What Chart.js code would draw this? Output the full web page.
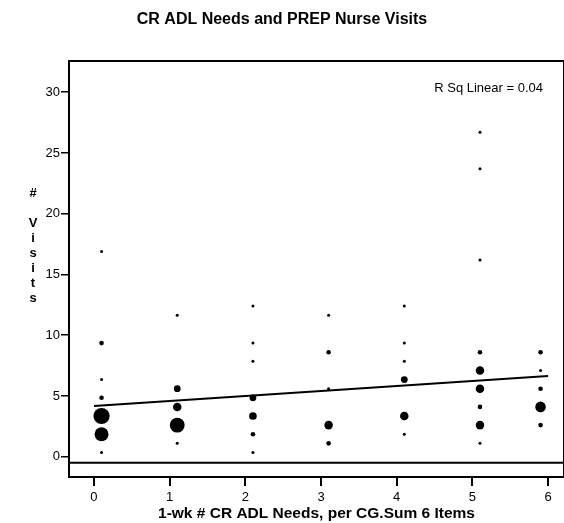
<!DOCTYPE html>
<html>
<head>
<meta charset="utf-8">
<script src="https://cdn.jsdelivr.net/npm/chart.js@4.4.0/dist/chart.umd.min.js"></script>
<style>
  html, body { margin: 0; padding: 0; background: #fff; }
  #wrap { width: 564px; height: 523px; position: relative; }
</style>
</head>
<body>
<div id="wrap"><canvas id="visitChart"></canvas></div>
<script>
// ADL needs (slightly offset so stacked columns don't sit on the ticks)
const adlNeeds = [
  0.1, 0.1, 0.1, 0.1, 0.1, 0.1, 0.1,
  1.1, 1.1, 1.1, 1.1, 1.1,
  2.1, 2.1, 2.1, 2.1, 2.1, 2.1, 2.1,
  3.1, 3.1, 3.1, 3.1, 3.1,
  4.1, 4.1, 4.1, 4.1, 4.1, 4.1,
  5.1, 5.1, 5.1, 5.1, 5.1, 5.1, 5.1, 5.1, 5.1,
  5.9, 5.9, 5.9, 5.9, 5.9
];
const nurseVisits = [
  16.9, 9.35, 6.35, 4.85, 3.35, 1.85, 0.35,
  11.65, 5.6, 4.1, 2.6, 1.1,
  12.4, 9.35, 7.85, 4.85, 3.35, 1.85, 0.35,
  11.65, 8.6, 5.6, 2.6, 1.1,
  12.4, 9.35, 7.85, 6.35, 3.35, 1.85,
  26.7, 23.7, 16.2, 8.6, 7.1, 5.6, 4.1, 2.6, 1.1,
  8.6, 7.1, 5.6, 4.1, 2.6
];
// number of cases sharing each point
const caseCount = [
  1, 2, 1, 2, 20, 15, 1,
  1, 4, 6, 17, 1,
  1, 1, 1, 4, 5, 2, 1,
  1, 2, 1, 6, 2,
  1, 1, 1, 4, 6, 1,
  1, 1, 1, 2, 6, 6, 2, 6, 1,
  2, 1, 2, 9, 2
];

const fitX = [0, 6];
const fitY = [4.18, 6.64];
const rSqText = 'R Sq Linear = 0.04';

const xTickValues = [0, 1, 2, 3, 4, 5, 6];
const yTickValues = [0, 5, 10, 15, 20, 25, 30];
const yTitleChars = ['#', '', 'V', 'i', 's', 'i', 't', 's'];
const baselineY = -0.5;

const FONT = "'Liberation Sans', Arial, sans-serif";

const bubbles = adlNeeds.map((x, i) => ({
  x: x,
  y: nurseVisits[i],
  r: 1.9 * Math.sqrt(caseCount[i]) - 0.4
}));

const framePlugin = {
  id: 'frame',
  beforeDatasetsDraw(chart) {
    const { ctx, chartArea: a, scales } = chart;
    ctx.save();
    ctx.strokeStyle = '#000';
    ctx.lineWidth = 2;
    ctx.strokeRect(a.left, a.top, a.right - a.left, a.bottom - a.top);
    const yb = scales.y.getPixelForValue(baselineY);
    ctx.beginPath();
    ctx.moveTo(a.left, yb);
    ctx.lineTo(a.right, yb);
    ctx.stroke();
    ctx.restore();
  },
  afterDraw(chart) {
    const { ctx, chartArea: a } = chart;
    ctx.save();
    ctx.fillStyle = '#000';
    ctx.font = '13px ' + FONT;
    ctx.textAlign = 'right';
    ctx.textBaseline = 'middle';
    ctx.fillText(rSqText, a.right - 21, a.top + 27);

    // stacked y-axis title
    ctx.font = 'bold 13px ' + FONT;
    ctx.textAlign = 'center';
    yTitleChars.forEach((c, i) => {
      if (c) ctx.fillText(c, 33, 193 + i * 15);
    });
    ctx.restore();
  }
};

new Chart(document.getElementById('visitChart'), {
  type: 'bubble',
  data: {
    datasets: [
      {
        data: bubbles,
        backgroundColor: '#000',
        borderWidth: 0,
        hoverRadius: 0
      },
      {
        type: 'line',
        data: fitX.map((x, i) => ({ x: x, y: fitY[i] })),
        borderColor: '#000',
        borderWidth: 2,
        pointRadius: 0,
        fill: false
      }
    ]
  },
  options: {
    responsive: true,
    maintainAspectRatio: false,
    animation: false,
    layout: { padding: 0, autoPadding: false },
    plugins: {
      legend: { display: false },
      tooltip: { enabled: false },
      title: {
        display: true,
        text: 'CR ADL Needs and PREP Nurse Visits',
        color: '#000',
        font: { family: FONT, size: 16, weight: 'bold' },
        padding: { top: 10, bottom: 31.8 }
      }
    },
    scales: {
      x: {
        type: 'linear',
        min: -0.33,
        max: 6.21,
        afterFit(s) { s.height = 46; },
        afterBuildTicks(s) { s.ticks = xTickValues.map(v => ({ value: v })); },
        border: { display: true, color: '#000', width: 2 },
        grid: { drawOnChartArea: false, drawTicks: true, tickLength: 9, color: '#000', lineWidth: 2 },
        ticks: { color: '#000', padding: 4, maxRotation: 0, font: { family: FONT, size: 13 } },
        title: {
          display: true,
          text: '1-wk # CR ADL Needs, per CG.Sum 6 Items',
          color: '#000',
          font: { family: FONT, size: 15.5, weight: 'bold' },
          padding: { top: 0, bottom: 0 }
        }
      },
      y: {
        type: 'linear',
        min: -1.67,
        max: 32.57,
        afterFit(s) { s.width = 69; },
        afterBuildTicks(s) { s.ticks = yTickValues.map(v => ({ value: v })); },
        border: { display: true, color: '#000', width: 2 },
        grid: { drawOnChartArea: false, drawTicks: true, tickLength: 8, color: '#000', lineWidth: 1.5 },
        ticks: { color: '#000', padding: 1, font: { family: FONT, size: 13 } }
      }
    }
  },
  plugins: [framePlugin]
});
</script>
</body>
</html>
